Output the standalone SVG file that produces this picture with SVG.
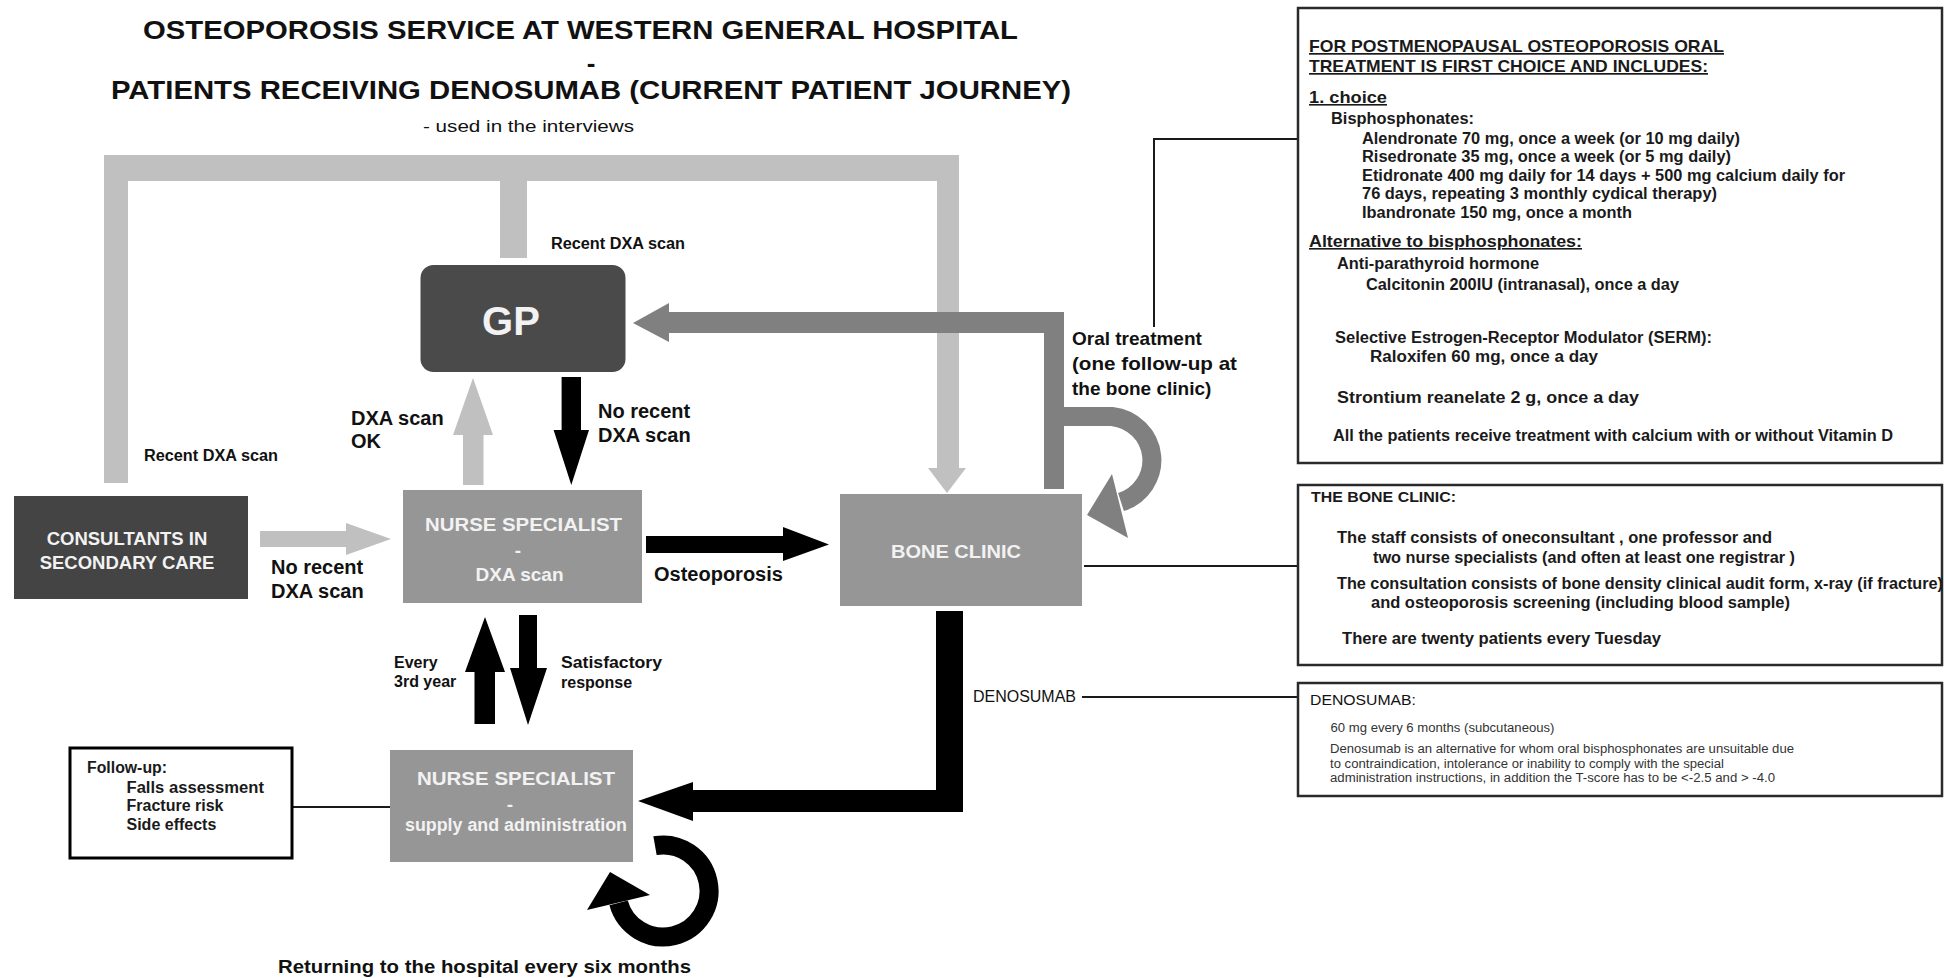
<svg xmlns="http://www.w3.org/2000/svg" width="1945" height="978" viewBox="0 0 1945 978">
<defs>
<style>
text{font-family:"Liberation Sans",Arial,sans-serif;fill:#111;}
.b{font-weight:bold;}
.title{font-size:26px;font-weight:bold;}
.lbl{font-size:20px;font-weight:bold;}
.sm{font-size:16px;font-weight:bold;}
.nt{font-size:19px;font-weight:bold;fill:#f2f2f2;text-anchor:middle;}
.nb{font-size:16px;font-weight:bold;fill:#1a1a1a;}
.nr{font-size:12.5px;fill:#333;}
.u{text-decoration:underline;}
.light{fill:#c0c0c0;}
.dark{fill:#808080;}
.blk{fill:#000;}
.thin{stroke:#1a1a1a;stroke-width:2;fill:none;}
.note{fill:#fff;stroke:#2a2a2a;stroke-width:2.5;}
</style>
</defs>
<rect width="1945" height="978" fill="#fff"/>

<g id="title">
<text class="title" x="143" y="39" textLength="875" lengthAdjust="spacingAndGlyphs">OSTEOPOROSIS SERVICE AT WESTERN GENERAL HOSPITAL</text>
<text class="title" x="591" y="72" text-anchor="middle">-</text>
<text class="title" x="111" y="99" textLength="960" lengthAdjust="spacingAndGlyphs">PATIENTS RECEIVING DENOSUMAB (CURRENT PATIENT JOURNEY)</text>
<text x="423" y="132" style="font-size:16px" textLength="211" lengthAdjust="spacingAndGlyphs" fill="#222">- used in the interviews</text>
</g>

<g id="connectors">
<!-- light gray frame: consultants/GP -> bone clinic -->
<rect class="light" x="104" y="155" width="855" height="26"/>
<rect class="light" x="104" y="155" width="24" height="328"/>
<rect class="light" x="500" y="155" width="27" height="103"/>
<rect class="light" x="937" y="155" width="22" height="313"/>
<polygon class="light" points="928,468 966,468 947,493"/>
<!-- bone clinic -> GP (oral treatment) -->
<polygon class="dark" points="633,323 669,303 669,312 1064,312 1064,489 1044,489 1044,333 669,333 669,342"/>
<!-- bone clinic self loop -->
<path d="M1060 416.5 L1112 416.5 A45 44 0 0 1 1121 502" stroke="#808080" stroke-width="19" fill="none"/>
<polygon class="dark" points="1112,474 1128,538 1087,515"/>
<!-- nurse DXA -> GP (light) -->
<polygon class="light" points="463,485 483.5,485 483.5,435 493,435 473,378 453,435 463,435"/>
<!-- GP -> nurse DXA (black) -->
<polygon class="blk" points="561.6,377 581,377 581,430 589,430 571.3,485 553.6,430 561.6,430"/>
<!-- consultants -> nurse DXA (light) -->
<polygon class="light" points="260,531 346,531 346,523 391,539 346,555 346,547 260,547"/>
<!-- nurse DXA -> bone clinic -->
<polygon class="blk" points="646,536 783,536 783,527 829,544.5 783,561 783,553 646,553"/>
<!-- every 3rd year (up) -->
<polygon class="blk" points="474.5,724 495,724 495,672 505,672 485,617 465,672 474.5,672"/>
<!-- satisfactory response (down) -->
<polygon class="blk" points="519,615 537,615 537,668 547,668 528,725 510,668 519,668"/>
<!-- bone clinic -> nurse supply (denosumab) -->
<polygon class="blk" points="936,611 963,611 963,812 693,812 693,821 638,801 693,782 693,790 936,790"/>
<!-- nurse supply self loop -->
<path d="M655 845.7 A46 46 0 1 1 618.6 902.9" stroke="#000" stroke-width="19" fill="none"/>
<polygon class="blk" points="650,895 587,910 610,872"/>
<!-- thin lines -->
<line class="thin" x1="292" y1="807" x2="390" y2="807" stroke-width="3"/>
<line class="thin" x1="1084" y1="566" x2="1298" y2="566"/>
<line class="thin" x1="1082" y1="697" x2="1298" y2="697"/>
<polyline class="thin" points="1154,327 1154,139 1298,139"/>
</g>

<g id="connector-labels">
<text class="sm" x="551" y="249" textLength="134" lengthAdjust="spacingAndGlyphs">Recent DXA scan</text>
<text class="sm" x="144" y="461" textLength="134" lengthAdjust="spacingAndGlyphs">Recent DXA scan</text>
<text class="lbl" x="351" y="425">DXA scan</text>
<text class="lbl" x="351" y="448">OK</text>
<text class="lbl" x="598" y="418">No recent</text>
<text class="lbl" x="598" y="442">DXA scan</text>
<text class="lbl" x="271" y="574">No recent</text>
<text class="lbl" x="271" y="598">DXA scan</text>
<text class="lbl" x="654" y="581">Osteoporosis</text>
<text class="lbl" x="1072" y="345" style="font-size:19px">Oral treatment</text>
<text class="lbl" x="1072" y="370" style="font-size:19px" textLength="165" lengthAdjust="spacingAndGlyphs">(one follow-up at</text>
<text class="lbl" x="1072" y="395" style="font-size:19px">the bone clinic)</text>
<text class="sm" x="394" y="668">Every</text>
<text class="sm" x="394" y="687">3rd year</text>
<text class="sm" x="561" y="668" textLength="101" lengthAdjust="spacingAndGlyphs">Satisfactory</text>
<text class="sm" x="561" y="688">response</text>
<text x="973" y="702" style="font-size:16px" fill="#333" textLength="103" lengthAdjust="spacingAndGlyphs">DENOSUMAB</text>
<text class="b" x="278" y="973" style="font-size:18px" textLength="413" lengthAdjust="spacingAndGlyphs">Returning to the hospital every six months</text>
</g>

<g id="node-gp">
<rect x="420.5" y="265" width="205" height="107" rx="13" fill="#4a4a4a"/>
<text class="nt" x="511" y="335" style="font-size:40px">GP</text>
</g>

<g id="node-consultants">
<rect x="14" y="496" width="234" height="103" fill="#444"/>
<text class="nt" x="127" y="545" style="font-size:18.5px">CONSULTANTS IN</text>
<text class="nt" x="127" y="569" style="font-size:18.5px">SECONDARY CARE</text>
</g>

<g id="node-nurse-dxa">
<rect x="403" y="490" width="239" height="113" fill="#969696"/>
<text class="nt" x="523.5" y="531" textLength="197" lengthAdjust="spacingAndGlyphs">NURSE SPECIALIST</text>
<text class="nt" x="518" y="557">-</text>
<text class="nt" x="519.5" y="581">DXA scan</text>
</g>

<g id="node-bone-clinic">
<rect x="840" y="494" width="242" height="112" fill="#969696"/>
<text class="nt" x="956" y="558" textLength="130" lengthAdjust="spacingAndGlyphs">BONE CLINIC</text>
</g>

<g id="node-nurse-supply">
<rect x="390" y="750" width="243" height="112" fill="#969696"/>
<text class="nt" x="516" y="785" textLength="198" lengthAdjust="spacingAndGlyphs">NURSE SPECIALIST</text>
<text class="nt" x="510" y="811">-</text>
<text class="nt" x="516" y="831" style="font-size:17.5px" textLength="222" lengthAdjust="spacingAndGlyphs">supply and administration</text>
</g>

<g id="node-followup">
<rect x="70" y="748" width="222" height="110" fill="#fff" stroke="#000" stroke-width="3"/>
<text class="nb" x="87" y="773" textLength="80" lengthAdjust="spacingAndGlyphs">Follow-up:</text>
<text class="nb" x="126.5" y="793" textLength="137.5" lengthAdjust="spacingAndGlyphs">Falls assessment</text>
<text class="nb" x="126.5" y="811">Fracture risk</text>
<text class="nb" x="126.5" y="830">Side effects</text>
</g>

<g id="note-oral-treatment">
<rect class="note" x="1298" y="8" width="644" height="455"/>
<text class="nb u" x="1309" y="52" style="font-size:17px" textLength="415" lengthAdjust="spacingAndGlyphs">FOR POSTMENOPAUSAL OSTEOPOROSIS ORAL</text>
<text class="nb u" x="1309" y="72" style="font-size:17px" textLength="399" lengthAdjust="spacingAndGlyphs">TREATMENT IS FIRST CHOICE AND INCLUDES:</text>
<text class="nb u" x="1309" y="103" textLength="78" lengthAdjust="spacingAndGlyphs">1. choice</text>
<text class="nb" x="1331" y="124" textLength="143" lengthAdjust="spacingAndGlyphs">Bisphosphonates:</text>
<text class="nb" x="1362" y="144" textLength="378" lengthAdjust="spacingAndGlyphs">Alendronate 70 mg, once a week (or 10 mg daily)</text>
<text class="nb" x="1362" y="162" textLength="369" lengthAdjust="spacingAndGlyphs">Risedronate 35 mg, once a week (or 5 mg daily)</text>
<text class="nb" x="1362" y="181" textLength="483" lengthAdjust="spacingAndGlyphs">Etidronate 400 mg daily for 14 days + 500 mg calcium daily for</text>
<text class="nb" x="1362" y="199" textLength="355" lengthAdjust="spacingAndGlyphs">76 days, repeating 3 monthly cydical therapy)</text>
<text class="nb" x="1362" y="218" textLength="270" lengthAdjust="spacingAndGlyphs">Ibandronate 150 mg, once a month</text>
<text class="nb u" x="1309" y="247" textLength="273" lengthAdjust="spacingAndGlyphs">Alternative to bisphosphonates:</text>
<text class="nb" x="1337" y="269" textLength="202" lengthAdjust="spacingAndGlyphs">Anti-parathyroid hormone</text>
<text class="nb" x="1366" y="290" textLength="313" lengthAdjust="spacingAndGlyphs">Calcitonin 200IU (intranasal), once a day</text>
<text class="nb" x="1335" y="343" textLength="377" lengthAdjust="spacingAndGlyphs">Selective Estrogen-Receptor Modulator (SERM):</text>
<text class="nb" x="1370" y="362" textLength="228" lengthAdjust="spacingAndGlyphs">Raloxifen 60 mg, once a day</text>
<text class="nb" x="1337" y="403" style="font-size:17px" textLength="302" lengthAdjust="spacingAndGlyphs">Strontium reanelate 2 g, once a day</text>
<text class="nb" x="1333" y="441" textLength="560" lengthAdjust="spacingAndGlyphs">All the patients receive treatment with calcium with or without Vitamin D</text>
</g>

<g id="note-bone-clinic">
<rect class="note" x="1298" y="485" width="644" height="180"/>
<text class="nb" x="1311" y="502" style="font-size:15px" textLength="145" lengthAdjust="spacingAndGlyphs">THE BONE CLINIC:</text>
<text class="nb" x="1337" y="543" textLength="435" lengthAdjust="spacingAndGlyphs">The staff consists of oneconsultant , one professor and</text>
<text class="nb" x="1373" y="563" textLength="422" lengthAdjust="spacingAndGlyphs">two nurse specialists (and often at least one registrar )</text>
<text class="nb" x="1337" y="589" textLength="606" lengthAdjust="spacingAndGlyphs">The consultation consists of bone density clinical audit form, x-ray (if fracture)</text>
<text class="nb" x="1371" y="608" textLength="419" lengthAdjust="spacingAndGlyphs">and osteoporosis screening (including blood sample)</text>
<text class="nb" x="1342" y="644" textLength="319" lengthAdjust="spacingAndGlyphs">There are twenty patients every Tuesday</text>
</g>

<g id="note-denosumab">
<rect class="note" x="1298" y="683" width="644" height="113"/>
<text x="1310" y="705" style="font-size:15px" fill="#333" textLength="106" lengthAdjust="spacingAndGlyphs">DENOSUMAB:</text>
<text class="nr" x="1330.5" y="732" textLength="224" lengthAdjust="spacingAndGlyphs">60 mg every 6 months (subcutaneous)</text>
<text class="nr" x="1330" y="753" textLength="464" lengthAdjust="spacingAndGlyphs">Denosumab is an alternative for whom oral bisphosphonates are unsuitable due</text>
<text class="nr" x="1330" y="768" textLength="394" lengthAdjust="spacingAndGlyphs">to contraindication, intolerance or inability to comply with the special</text>
<text class="nr" x="1330" y="782" textLength="445" lengthAdjust="spacingAndGlyphs">administration instructions, in addition the T-score has to be &lt;-2.5 and &gt; -4.0</text>
</g>
</svg>
